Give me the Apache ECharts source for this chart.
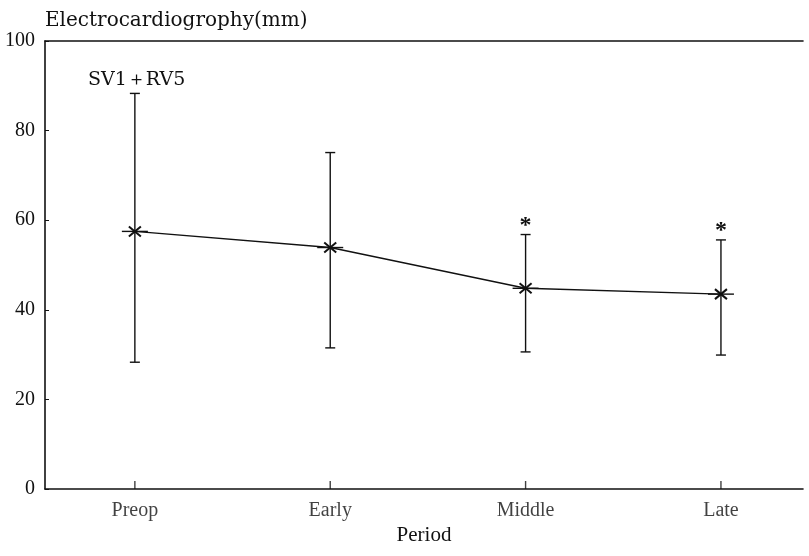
<!DOCTYPE html>
<html>
<head>
<meta charset="utf-8">
<script src="https://cdn.jsdelivr.net/npm/echarts@6/dist/echarts.min.js"></script>
<style>
  html, body { margin: 0; padding: 0; background: #fff; }
  #chart { width: 809px; height: 556px; }
</style>
</head>
<body>
<div id="chart"></div>
<script>
// 数据
var periods = ['Preop', 'Early', 'Middle', 'Late'];
var means = [57.5, 53.9, 44.8, 43.5];
var upper = [88.3, 75.1, 56.8, 55.6];
var lower = [28.3, 31.5, 30.6, 29.9];
var signif = ['', '', '*', '*'];

var font = '"Liberation Serif"';
var wideFont = '"DejaVu Serif"';
var ink = '#111';

var myChart = echarts.init(document.getElementById('chart'));

var barData = [];
for (var i = 0; i < periods.length; i++) {
    barData.push([i, means[i], upper[i], lower[i], signif[i]]);
}
var lineData = means.map(function (v, i) { return [i, v]; });

function renderBar(params, api) {
    var x = api.value(0);
    var m = api.coord([x, api.value(1)]);
    var hi = api.coord([x, api.value(2)]);
    var lo = api.coord([x, api.value(3)]);
    var cap = 5;
    var st = { stroke: ink, lineWidth: 1.4 };
    var kids = [
        { type: 'line', shape: { x1: hi[0], y1: hi[1], x2: lo[0], y2: lo[1] }, style: st },
        { type: 'line', shape: { x1: hi[0] - cap, y1: hi[1], x2: hi[0] + cap, y2: hi[1] }, style: st },
        { type: 'line', shape: { x1: lo[0] - cap, y1: lo[1], x2: lo[0] + cap, y2: lo[1] }, style: st },
        // 星形标记
        { type: 'line', shape: { x1: m[0] - 13, y1: m[1], x2: m[0] + 13, y2: m[1] }, style: st },
        { type: 'line', shape: { x1: m[0] - 6, y1: m[1] - 5, x2: m[0] + 6, y2: m[1] + 5 }, style: { stroke: ink, lineWidth: 2 } },
        { type: 'line', shape: { x1: m[0] - 6, y1: m[1] + 5, x2: m[0] + 6, y2: m[1] - 5 }, style: { stroke: ink, lineWidth: 2 } }
    ];
    var s = api.value(4);
    if (s) {
        kids.push({
            type: 'text',
            style: {
                text: s, x: hi[0], y: hi[1] - 9, align: 'center', verticalAlign: 'middle',
                font: 'bold 24px ' + font, fill: ink
            }
        });
    }
    return { type: 'group', children: kids };
}

var option = {
    animation: false,
    backgroundColor: '#fff',
    title: [{
        text: 'Electrocardiogrophy(mm)',
        left: 40, top: 6,
        textStyle: { fontFamily: wideFont, fontSize: 20, fontWeight: 'normal', color: ink }
    }, {
        text: 'SV1＋RV5',
        left: 83, top: 66,
        textStyle: { fontFamily: wideFont, fontSize: 19, fontWeight: 'normal', color: ink }
    }],
    grid: { left: 45, right: 6, top: 41, bottom: 67, outerBoundsMode: 'none' },
    xAxis: [{
        type: 'value',
        min: -0.46,
        max: 3.42,
        interval: 1,
        name: 'Period',
        nameLocation: 'middle',
        nameGap: 36,
        nameTextStyle: { fontFamily: font, fontSize: 21, color: ink },
        axisLine: { onZero: false, lineStyle: { color: ink, width: 1.6 } },
        axisTick: { show: false },
        splitLine: { show: false },
        axisLabel: { show: false }
    }, {
        type: 'value',
        position: 'top',
        min: -0.46,
        max: 3.42,
        axisLine: { show: true, onZero: false, lineStyle: { color: ink, width: 1.6 } },
        axisTick: { show: false },
        axisLabel: { show: false },
        splitLine: { show: false }
    }],
    yAxis: {
        type: 'value',
        min: 0,
        max: 100,
        interval: 20,
        axisLine: { show: true, onZero: false, lineStyle: { color: ink, width: 1.6 } },
        axisTick: { show: true, inside: true, length: 4, lineStyle: { color: ink } },
        splitLine: { show: false },
        axisLabel: { fontFamily: font, fontSize: 20, color: ink, margin: 10 }
    },
    series: [{
        type: 'line',
        data: lineData,
        symbol: 'none',
        lineStyle: { color: ink, width: 1.4 },
        z: 2
    }, {
        type: 'custom',
        data: barData,
        renderItem: renderBar,
        z: 3
    }, {
        // 类别标签与刻度
        type: 'scatter',
        data: periods.map(function (p, i) { return [i, 0, p]; }),
        symbol: 'rect',
        symbolSize: [1.4, 8],
        symbolOffset: [0, -4],
        itemStyle: { color: ink },
        label: {
            show: true,
            position: 'bottom',
            distance: 12,
            formatter: function (p) { return p.value[2]; },
            fontFamily: font, fontSize: 20, color: ink
        },
        silent: true,
        clip: false,
        z: 4
    }]
};

myChart.setOption(option);
</script>
</body>
</html>
